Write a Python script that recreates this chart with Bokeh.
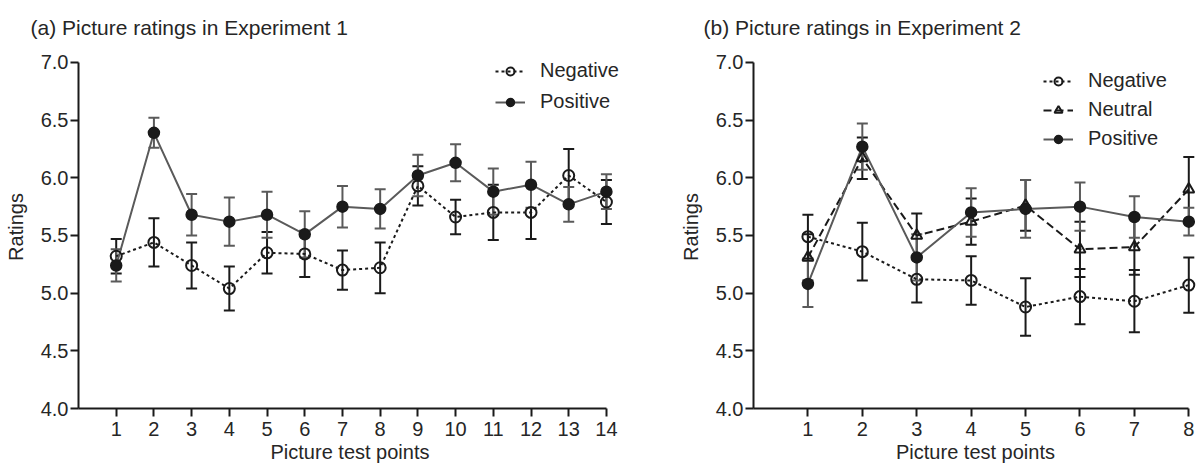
from bokeh.plotting import figure
from bokeh.models import (ColumnDataSource, Whisker, TeeHead, Legend, LegendItem,
                          FixedTicker, PrintfTickFormatter, Range1d)
from bokeh.layouts import row
from bokeh.embed import file_html
from bokeh.resources import INLINE

# ---------------- data ----------------
exp1_points = list(range(1, 15))
exp1_neg_mean = [5.32, 5.44, 5.24, 5.04, 5.35, 5.34, 5.20, 5.22, 5.93, 5.66, 5.70, 5.70, 6.02, 5.79]
exp1_neg_se = [0.15, 0.21, 0.20, 0.19, 0.18, 0.20, 0.17, 0.22, 0.17, 0.15, 0.24, 0.23, 0.23, 0.19]
exp1_pos_mean = [5.24, 6.39, 5.68, 5.62, 5.68, 5.51, 5.75, 5.73, 6.02, 6.13, 5.88, 5.94, 5.77, 5.88]
exp1_pos_se = [0.14, 0.13, 0.18, 0.21, 0.20, 0.20, 0.18, 0.17, 0.18, 0.16, 0.20, 0.20, 0.15, 0.15]

exp2_points = list(range(1, 9))
exp2_neg_mean = [5.49, 5.36, 5.12, 5.11, 4.88, 4.97, 4.93, 5.07]
exp2_neg_se = [0.19, 0.25, 0.20, 0.21, 0.25, 0.24, 0.27, 0.24]
exp2_neu_mean = [5.31, 6.17, 5.50, 5.62, 5.76, 5.38, 5.40, 5.90]
exp2_neu_se = [0.20, 0.18, 0.19, 0.20, 0.22, 0.24, 0.24, 0.28]
exp2_pos_mean = [5.08, 6.27, 5.31, 5.70, 5.73, 5.75, 5.66, 5.62]
exp2_pos_se = [0.20, 0.20, 0.20, 0.21, 0.25, 0.21, 0.18, 0.12]

titles = ["(a) Picture ratings in Experiment 1", "(b) Picture ratings in Experiment 2"]
y_ticks = [4.0, 4.5, 5.0, 5.5, 6.0, 6.5, 7.0]

FONT = "Liberation Sans"
TXT = "#262626"
BLACK = "#1a1a1a"
GRAY = "#5a5a5a"
H = 471


def make_fig(title, npts, xmax, width, left, right, offset):
    p = figure(width=width, height=H, output_backend="svg", toolbar_location=None,
               x_range=Range1d(0, xmax), y_range=Range1d(4.0, 7.147),
               min_border_left=left, min_border_right=right,
               min_border_top=45, min_border_bottom=63)
    p.title.text = title
    p.title.align = "left"
    p.title.offset = offset
    p.title.standoff = 13
    p.title.text_font = FONT
    p.title.text_font_size = "21px"
    p.title.text_font_style = "normal"
    p.title.text_color = TXT
    p.outline_line_color = None
    p.grid.visible = False
    for ax in (p.xaxis[0], p.yaxis[0]):
        ax.axis_line_width = 2
        ax.axis_line_color = BLACK
        ax.major_tick_line_width = 2
        ax.major_tick_line_color = BLACK
        ax.major_tick_out = 8
        ax.major_tick_in = 0
        ax.minor_tick_line_color = None
        ax.major_label_text_font = FONT
        ax.major_label_text_font_size = "20px"
        ax.major_label_text_color = TXT
        ax.axis_label_text_font = FONT
        ax.axis_label_text_font_size = "20px"
        ax.axis_label_text_font_style = "normal"
        ax.axis_label_text_color = TXT
    p.xaxis.bounds = (0, npts)
    p.yaxis.bounds = (4.0, 7.0)
    p.xaxis.ticker = FixedTicker(ticks=list(range(1, npts + 1)))
    p.xaxis.axis_label = "Picture test points"
    p.xaxis.major_label_standoff = 5
    p.xaxis.axis_label_standoff = 2
    p.yaxis.ticker = FixedTicker(ticks=y_ticks)
    p.yaxis.formatter = PrintfTickFormatter(format="%.1f")
    p.yaxis.axis_label = "Ratings"
    p.yaxis.major_label_standoff = 2
    p.yaxis.axis_label_standoff = 11
    return p


def add_series(p, x, mean, se, color):
    lower = [m - s for m, s in zip(mean, se)]
    upper = [m + s for m, s in zip(mean, se)]
    src = ColumnDataSource(dict(x=x, y=mean, lower=lower, upper=upper))
    w = Whisker(base="x", lower="lower", upper="upper", source=src,
                line_color=color, line_width=2,
                upper_head=TeeHead(size=11, line_color=color, line_width=2),
                lower_head=TeeHead(size=11, line_color=color, line_width=2))
    p.add_layout(w)
    return src


def draw_lines(p, src, color, dash):
    return p.line("x", "y", source=src, line_color=color, line_width=2, line_dash=dash)


def draw_markers(p, src, marker, fill):
    if fill:
        return p.scatter("x", "y", source=src, marker=marker, size=11,
                         fill_color=BLACK, line_color=BLACK, line_width=1.5)
    return p.scatter("x", "y", source=src, marker=marker, size=11,
                     fill_alpha=0, line_color=BLACK, line_width=2)


def make_legend(items, loc, spacing):
    return Legend(items=items, location=loc, orientation="vertical",
                  background_fill_alpha=0, border_line_color=None,
                  padding=0, margin=0, spacing=spacing, glyph_width=30, glyph_height=20,
                  label_height=20, label_standoff=15, label_text_font=FONT,
                  label_text_font_size="20px", label_text_color=TXT)


# ---------------- panel (a) ----------------
p1 = make_fig(titles[0], 14, 14.4, 648, 78, 27, -48)
s1n = add_series(p1, exp1_points, exp1_neg_mean, exp1_neg_se, BLACK)
s1p = add_series(p1, exp1_points, exp1_pos_mean, exp1_pos_se, GRAY)
l1n = draw_lines(p1, s1n, BLACK, "3 3")
l1p = draw_lines(p1, s1p, GRAY, "solid")
m1n = draw_markers(p1, s1n, "circle", False)
m1p = draw_markers(p1, s1p, "circle", True)
p1.add_layout(make_legend([LegendItem(label="Negative", renderers=[l1n, m1n]),
                           LegendItem(label="Positive", renderers=[l1p, m1p])],
                          (417, 295), 8))

# ---------------- panel (b) ----------------
p2 = make_fig(titles[1], 8, 8.16, 549, 105, 0, -50)
s2n = add_series(p2, exp2_points, exp2_neg_mean, exp2_neg_se, BLACK)
s2u = add_series(p2, exp2_points, exp2_neu_mean, exp2_neu_se, BLACK)
s2p = add_series(p2, exp2_points, exp2_pos_mean, exp2_pos_se, GRAY)
l2n = draw_lines(p2, s2n, BLACK, "3 3")
l2u = draw_lines(p2, s2u, BLACK, "8 4")
l2p = draw_lines(p2, s2p, GRAY, "solid")
m2n = draw_markers(p2, s2n, "circle", False)
m2u = draw_markers(p2, s2u, "triangle", False)
m2p = draw_markers(p2, s2p, "circle", True)
p2.add_layout(make_legend([LegendItem(label="Negative", renderers=[l2n, m2n]),
                           LegendItem(label="Neutral", renderers=[l2u, m2u]),
                           LegendItem(label="Positive", renderers=[l2p, m2p])],
                          (290, 258), 6))

layout = row(p1, p2)
open("out.html", "w").write(file_html(layout, INLINE))
